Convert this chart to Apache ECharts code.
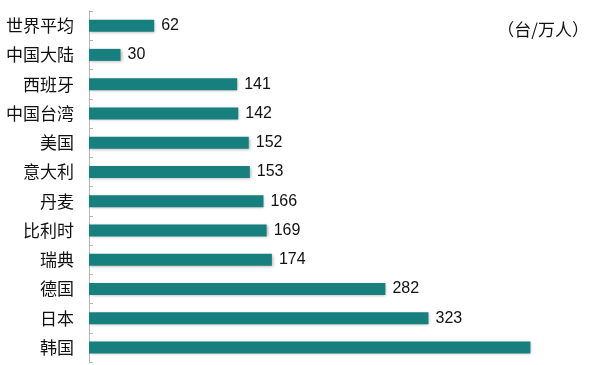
<!DOCTYPE html>
<html>
<head>
<meta charset="utf-8">
<script src="https://cdn.jsdelivr.net/npm/echarts@6/dist/echarts.min.js"></script>
<style>
html,body{margin:0;padding:0;background:#fff;}
#chart{width:600px;height:365px;}
</style>
</head>
<body>
<div id="chart"></div>
<script>
const categories = ['世界平均','中国大陆','西班牙','中国台湾','美国','意大利','丹麦','比利时','瑞典','德国','日本','韩国'];
const values = [62, 30, 141, 142, 152, 153, 166, 169, 174, 282, 323, 420];
const showLabel = [true,true,true,true,true,true,true,true,true,true,true,false];
const unitText = '（台/万人）';

const chart = echarts.init(document.getElementById('chart'));
chart.setOption({
  animation: false,
  backgroundColor: '#fff',
  title: {
    text: unitText,
    right: 6,
    top: 16,
    textStyle: {fontSize: 17, fontWeight: 'normal', color: '#111', fontFamily: 'Noto Sans CJK SC'}
  },
  grid: {left: 89, top: 11, bottom: 3, width: 504.5},
  xAxis: {
    type: 'value', min: 0, max: 480,
    show: false
  },
  yAxis: {
    type: 'category',
    data: categories,
    inverse: true,
    axisLine: {show: true, lineStyle: {color: '#b5b5b5', width: 1}},
    axisTick: {show: true, inside: true, length: 4, lineStyle: {color: '#b5b5b5'}},
    axisLabel: {fontSize: 17, color: '#111', margin: 15, fontFamily: 'Noto Sans CJK SC'}
  },
  series: [{
    type: 'bar',
    data: values.map((v, i) => ({value: v, label: {show: showLabel[i]}})),
    barWidth: 12,
    itemStyle: {
      color: '#17807e',
      shadowColor: 'rgba(0,0,0,0.3)',
      shadowBlur: 3,
      shadowOffsetX: 1,
      shadowOffsetY: 1
    },
    label: {
      show: true, position: 'right', distance: 7,
      fontSize: 16, color: '#111', fontFamily: 'Liberation Sans'
    }
  }]
});
</script>
</body>
</html>
